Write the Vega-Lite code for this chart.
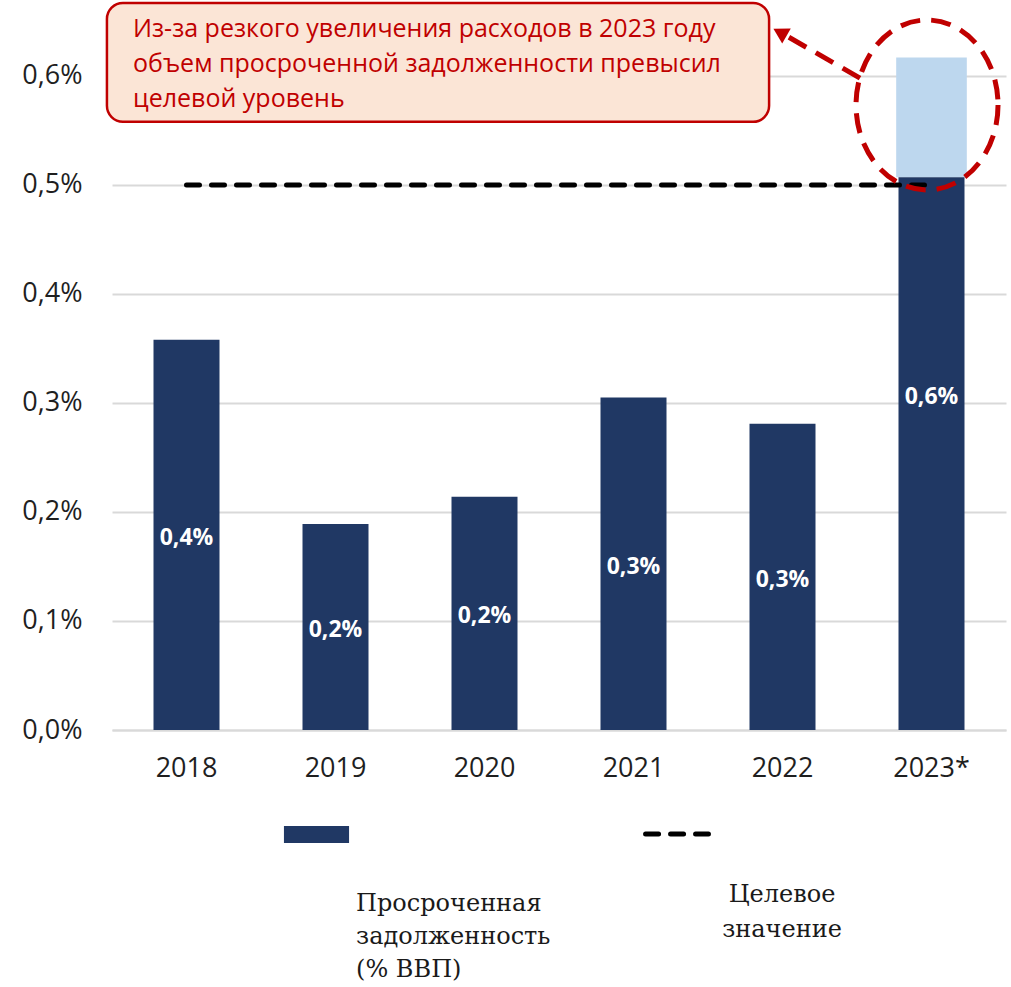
{
  "$schema": "https://vega.github.io/schema/vega-lite/v6.json",
  "width": 894,
  "height": 730,
  "autosize": {"type": "none"},
  "padding": {"left": 112, "top": 0, "right": 5, "bottom": 257},
  "background": "white",
  "config": {
    "view": {"stroke": null},
    "font": "Open Sans",
    "axis": {"labelFont": "Open Sans", "labelFontSize": 27, "labelColor": "#1f1f1f"}
  },
  "data": {
    "values": [
      {"year": "2018", "value": 0.358, "total": 0.358, "target": 0.5, "label": "0,4%"},
      {"year": "2019", "value": 0.189, "total": 0.189, "target": 0.5, "label": "0,2%"},
      {"year": "2020", "value": 0.214, "total": 0.214, "target": 0.5, "label": "0,2%"},
      {"year": "2021", "value": 0.305, "total": 0.305, "target": 0.5, "label": "0,3%"},
      {"year": "2022", "value": 0.281, "total": 0.281, "target": 0.5, "label": "0,3%"},
      {"year": "2023*", "value": 0.507, "total": 0.617, "target": 0.5, "label": "0,6%"}
    ]
  },
  "resolve": {"scale": {"x": "independent"}},
  "layer": [
    {
      "mark": {"type": "bar", "color": "#BDD7EE", "width": {"band": 1.07}},
      "encoding": {
        "x": {"field": "year", "type": "nominal", "sort": null, "title": null,
          "scale": {"paddingInner": 0.557, "paddingOuter": 0.2785},
          "axis": {"domainColor": "#D9D9D9", "domainWidth": 2, "ticks": false, "labelPadding": 25, "labelAngle": 0}},
        "y": {"field": "total", "type": "quantitative", "title": null,
          "scale": {"domain": [0, 0.6697], "nice": false, "zero": true},
          "axis": {"values": [0, 0.1, 0.2, 0.3, 0.4, 0.5, 0.6],
            "labelExpr": "replace(format(datum.value, '.1f'), '.', ',') + '%'",
            "domain": false, "ticks": false, "gridColor": "#D9D9D9", "gridWidth": 2, "labelPadding": 30}},
        "y2": {"field": "value"}
      }
    },
    {
      "mark": {"type": "bar", "color": "#203864"},
      "encoding": {
        "x": {"field": "year", "type": "nominal", "sort": null, "title": null,
          "scale": {"paddingInner": 0.557, "paddingOuter": 0.2785}, "axis": null},
        "y": {"field": "value", "type": "quantitative", "title": null,
          "scale": {"domain": [0, 0.6697], "nice": false}}
      }
    },
    {
      "transform": [{"calculate": "datum.total / 2", "as": "mid"}],
      "mark": {"type": "text", "color": "white", "fontWeight": "bold", "fontSize": 23, "font": "Open Sans", "baseline": "middle", "align": "center", "dy": 3},
      "encoding": {
        "x": {"field": "year", "type": "nominal", "sort": null, "title": null, "axis": null},
        "y": {"field": "mid", "type": "quantitative", "title": null,
          "scale": {"domain": [0, 0.6697], "nice": false}},
        "text": {"field": "label"}
      }
    },
    {
      "mark": {"type": "line", "color": "black", "strokeWidth": 5, "strokeDash": [13, 12], "strokeCap": "round"},
      "encoding": {
        "x": {"field": "year", "type": "nominal", "sort": null, "title": null, "axis": null},
        "y": {"field": "target", "type": "quantitative", "title": null,
          "scale": {"domain": [0, 0.6697], "nice": false}}
      }
    },
    {
      "data": {"values": [{"note": "ellipse"}]},
      "mark": {"type": "point", "filled": false, "fill": null, "opacity": 1, "stroke": "#C00000", "strokeWidth": 5, "strokeDash": [20, 11],
        "size": 20164,
        "shape": "M1,0 C1,0.661 0.5523,1.197 0,1.197 C-0.5523,1.197 -1,0.661 -1,0 C-1,-0.661 -0.5523,-1.197 0,-1.197 C0.5523,-1.197 1,-0.661 1,0 Z"},
      "encoding": {
        "x": {"datum": 5.47, "type": "quantitative", "scale": {"domain": [0, 6]}, "axis": null},
        "y": {"datum": 0.5734, "type": "quantitative", "title": null, "scale": {"domain": [0, 0.6697], "nice": false}}
      }
    },
    {
      "data": {"values": [{"note": "arrow"}]},
      "mark": {"type": "rule", "color": "#C00000", "strokeWidth": 5, "strokeDash": [20, 11]},
      "encoding": {
        "x": {"datum": 5.02, "type": "quantitative", "scale": {"domain": [0, 6]}, "axis": null},
        "y": {"datum": 0.598, "type": "quantitative", "title": null, "scale": {"domain": [0, 0.6697], "nice": false}},
        "x2": {"datum": 4.517},
        "y2": {"datum": 0.6376}
      }
    },
    {
      "data": {"values": [{"note": "arrowhead"}]},
      "mark": {"type": "point", "shape": "triangle-up", "filled": true, "color": "#C00000", "opacity": 1, "size": 300, "angle": 299.6},
      "encoding": {
        "x": {"datum": 4.483, "type": "quantitative", "scale": {"domain": [0, 6]}, "axis": null},
        "y": {"datum": 0.640, "type": "quantitative", "title": null, "scale": {"domain": [0, 0.6697], "nice": false}}
      }
    },
    {
      "data": {"values": [{"note": "box"}]},
      "mark": {"type": "rect", "fill": "#FBE5D6", "stroke": "#C00000", "strokeWidth": 2.5, "cornerRadius": 16},
      "encoding": {
        "x": {"datum": -0.034, "type": "quantitative", "scale": {"domain": [0, 6]}, "axis": null},
        "x2": {"datum": 4.41},
        "y": {"datum": 0.558, "type": "quantitative", "title": null, "scale": {"domain": [0, 0.6697], "nice": false}},
        "y2": {"datum": 0.667}
      }
    },
    {
      "data": {"values": [{"lines": ["Из-за резкого увеличения расходов в 2023 году", "объем просроченной задолженности превысил", "целевой уровень"]}]},
      "mark": {"type": "text", "align": "left", "baseline": "alphabetic", "fontSize": 25, "lineHeight": 35, "color": "#C00000", "font": "Open Sans"},
      "encoding": {
        "x": {"datum": 0.141, "type": "quantitative", "scale": {"domain": [0, 6]}, "axis": null},
        "y": {"datum": 0.636, "type": "quantitative", "title": null, "scale": {"domain": [0, 0.6697], "nice": false}},
        "text": {"field": "lines"}
      }
    },
    {
      "data": {"values": [{"series": "Просроченная задолженность (% ВВП)"}]},
      "mark": {"type": "rect", "color": "#203864"},
      "encoding": {
        "x": {"datum": 1.154, "type": "quantitative", "scale": {"domain": [0, 6]}, "axis": null},
        "x2": {"datum": 1.591},
        "y": {"datum": -0.0881, "type": "quantitative", "title": null, "scale": {"domain": [0, 0.6697], "nice": false}},
        "y2": {"datum": -0.1037}
      }
    },
    {
      "data": {"values": [{"series": "Целевое значение"}]},
      "mark": {"type": "rule", "color": "black", "strokeWidth": 5, "strokeDash": [13, 12], "strokeCap": "round"},
      "encoding": {
        "x": {"datum": 3.581, "type": "quantitative", "scale": {"domain": [0, 6]}, "axis": null},
        "x2": {"datum": 4.003},
        "y": {"datum": -0.0954, "type": "quantitative", "title": null, "scale": {"domain": [0, 0.6697], "nice": false}}
      }
    },
    {
      "data": {"values": [{"lines": ["Просроченная", "задолженность", "\u00a0(% ВВП)"]}]},
      "mark": {"type": "text", "align": "left", "baseline": "alphabetic", "fontSize": 24, "lineHeight": 33, "color": "#1a1a1a", "font": "DejaVu Serif"},
      "encoding": {
        "x": {"datum": 1.638, "type": "quantitative", "scale": {"domain": [0, 6]}, "axis": null},
        "y": {"datum": -0.166, "type": "quantitative", "title": null, "scale": {"domain": [0, 0.6697], "nice": false}},
        "text": {"field": "lines"}
      }
    },
    {
      "data": {"values": [{"lines": ["Целевое", "значение"]}]},
      "mark": {"type": "text", "align": "center", "baseline": "alphabetic", "fontSize": 24, "lineHeight": 35, "color": "#1a1a1a", "font": "DejaVu Serif"},
      "encoding": {
        "x": {"datum": 4.497, "type": "quantitative", "scale": {"domain": [0, 6]}, "axis": null},
        "y": {"datum": -0.158, "type": "quantitative", "title": null, "scale": {"domain": [0, 0.6697], "nice": false}},
        "text": {"field": "lines"}
      }
    }
  ]
}
